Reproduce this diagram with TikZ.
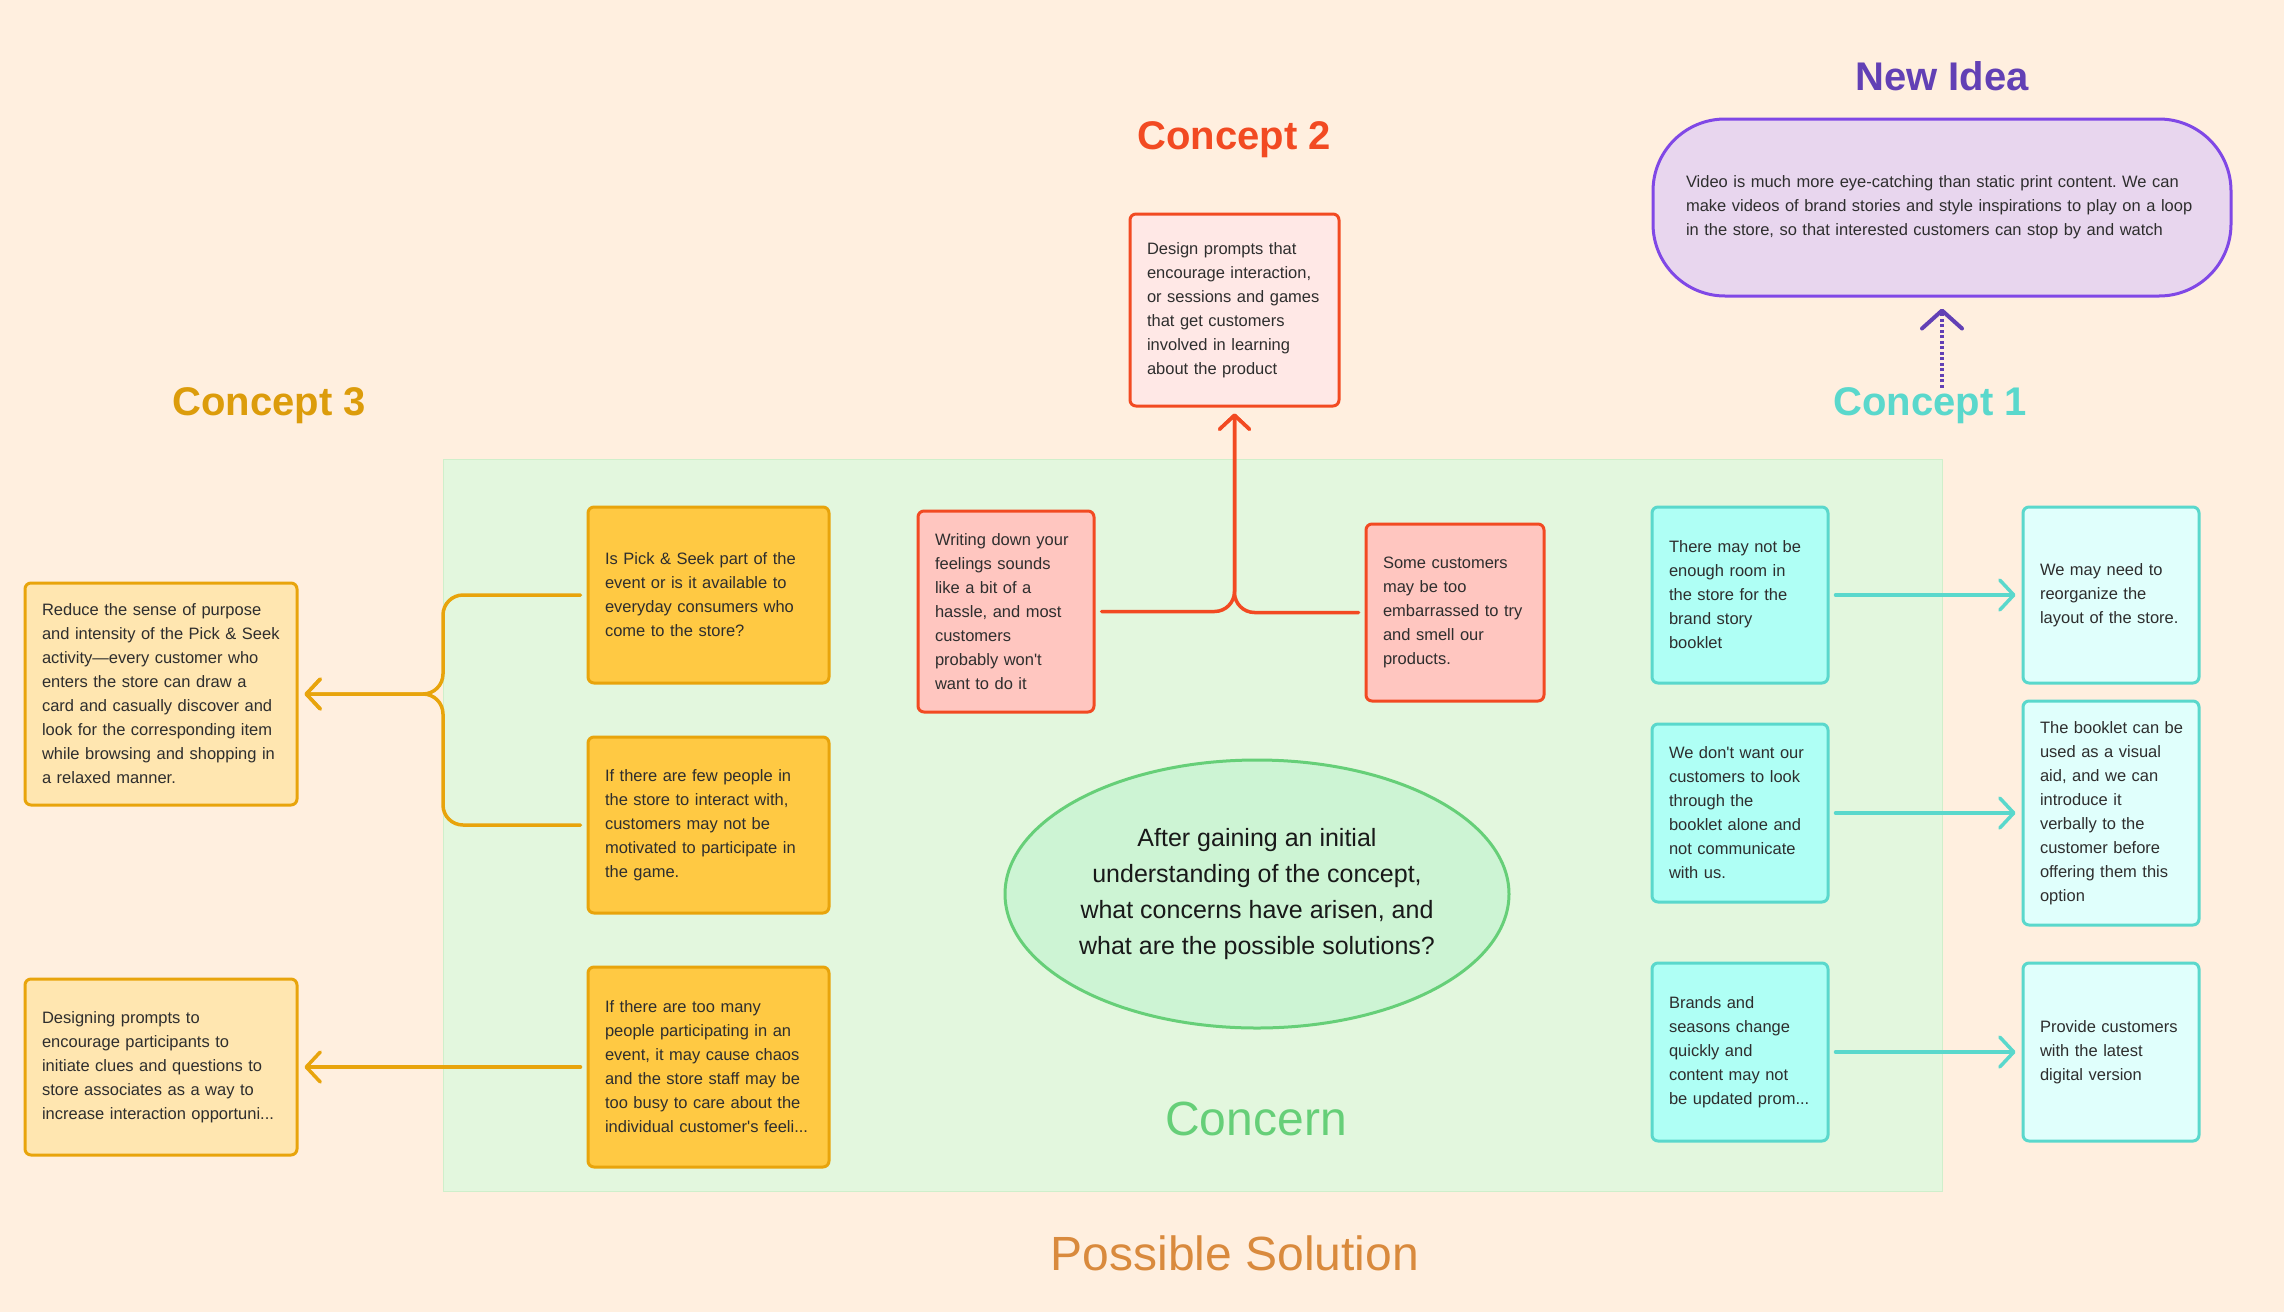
\documentclass[tikz,border=0pt]{standalone}
\usepackage{fontspec}
\setmainfont{Liberation Sans}[Ligatures=TeXOff]
\frenchspacing
\usetikzlibrary{arrows.meta,shapes.geometric}

\definecolor{peach}{HTML}{FFEFDF}
\definecolor{mint}{HTML}{E3F7DE}
\definecolor{mintline}{HTML}{CFEFCB}
\definecolor{ink}{HTML}{2E2E2E}
\definecolor{amber}{HTML}{E8A40C}
\definecolor{amberfill}{HTML}{FFC943}
\definecolor{amberpale}{HTML}{FFE6B0}
\definecolor{coral}{HTML}{F24A22}
\definecolor{coralfill}{HTML}{FFC6C0}
\definecolor{coralpale}{HTML}{FFE8E6}
\definecolor{aqua}{HTML}{5AD8CC}
\definecolor{aquafill}{HTML}{AFFFF5}
\definecolor{aquapale}{HTML}{E0FFFC}
\definecolor{violet}{HTML}{8048E6}
\definecolor{violetfill}{HTML}{E8D6EE}
\definecolor{violetink}{HTML}{6240B5}
\definecolor{leaf}{HTML}{66CF78}
\definecolor{leaffill}{HTML}{CDF4D4}
\definecolor{rust}{HTML}{D98A3D}

\tikzstyle{card}=[rectangle,rounded corners=6pt,line width=3pt,inner xsep=17pt,inner ysep=0pt,align=left,text=ink,font=\fontsize{16.5}{24}\selectfont]
\tikzstyle{card3}=[card,draw=amber,fill=amberfill]
\tikzstyle{sol3}=[card,draw=amber,fill=amberpale]
\tikzstyle{card2}=[card,draw=coral,fill=coralfill]
\tikzstyle{sol2}=[card,draw=coral,fill=coralpale]
\tikzstyle{card1}=[card,draw=aqua,fill=aquafill]
\tikzstyle{sol1}=[card,draw=aqua,fill=aquapale]
\tikzstyle{heading}=[inner sep=0pt,font=\fontsize{40}{44}\selectfont\bfseries]
\tikzstyle{band}=[inner sep=0pt,font=\fontsize{48}{52}\selectfont]
\tikzstyle{link}=[draw,line width=3.5pt,line cap=round,shorten <=6pt,shorten >=6pt,-{Straight Barb[length=14pt,width=30pt,round]}]

\begin{document}
\begin{tikzpicture}[x=1pt,y=-1pt]

   \useasboundingbox (0,0) rectangle (2284,1312);
   \fill[peach] (0,0) rectangle (2284,1312);
   \filldraw[fill=mint,draw=mintline,line width=1pt] (443,459) rectangle (1942,1191);

% Labels
   \node[heading,text=violetink] (tidea) at (1942,76) {New Idea};
   \node[heading,text=coral] (t2) at (1234,140) {Concept 2};
   \node[heading,text=amber!95!black] (t3) at (269,406) {Concept 3};
   \node[heading,text=aqua] (t1) at (1930,406) {Concept 1};
   \node[band,text=leaf] (tconcern) at (1256,1119) {Concern};
   \node[band,text=rust] (tsol) at (1235,1253) {Possible Solution};

% centre question
   \node[ellipse,draw=leaf,fill=leaffill,line width=3pt,inner sep=0pt,minimum width=504pt,minimum height=268pt,
         align=center,text=black!90,font=\fontsize{25}{36}\selectfont] (ask) at (1257,894)
         {After gaining an initial\\understanding of the concept,\\what concerns have arisen, and\\what are the possible solutions?};

% New idea
   \node[rectangle,rounded corners=72pt,draw=violet,fill=violetfill,line width=3pt,inner xsep=33pt,inner ysep=0pt,
         text width=512pt,minimum height=177pt,align=left,text=ink,font=\fontsize{16.5}{24}\selectfont] (idea) at (1942,207.5)
         {Video is much more eye-catching than static print content. We can\\make videos of brand stories and style inspirations to play on a loop\\in the store, so that interested customers can stop by and watch};

%Concept 3
   \node[card3,text width=207pt,minimum height=176pt] (q3a) at (708.5,595)
         {Is Pick \& Seek part of the\\event or is it available to\\everyday consumers who\\come to the store?};
   \node[card3,text width=207pt,minimum height=176pt] (q3b) at (708.5,825)
         {If there are few people in\\the store to interact with,\\customers may not be\\motivated to participate in\\the game.};
   \node[card3,text width=207pt,minimum height=200pt] (q3c) at (708.5,1067)
         {If there are too many\\people participating in an\\event, it may cause chaos\\and the store staff may be\\too busy to care about the\\individual customer's feeli...};
   \node[sol3,text width=238pt,minimum height=222pt] (s3a) at (161,694)
         {Reduce the sense of purpose\\and intensity of the Pick \& Seek\\activity—every customer who\\enters the store can draw a\\card and casually discover and\\look for the corresponding item\\while browsing and shopping in\\a relaxed manner.};
   \node[sol3,text width=238pt,minimum height=176pt] (s3b) at (161,1067)
         {Designing prompts to\\encourage participants to\\initiate clues and questions to\\store associates as a way to\\increase interaction opportuni...};

%Concept 2
   \node[card2,text width=142pt,minimum height=201pt] (q2a) at (1006,611.5)
         {Writing down your\\feelings sounds\\like a bit of a\\hassle, and most\\customers\\probably won't\\want to do it};
   \node[card2,text width=144pt,minimum height=177pt] (q2b) at (1455,612.5)
         {Some customers\\may be too\\embarrassed to try\\and smell our\\products.};
   \node[sol2,text width=175pt,minimum height=192pt] (s2) at (1234.5,310)
         {Design prompts that\\encourage interaction,\\or sessions and games\\that get customers\\involved in learning\\about the product};

%Concept 1
   \node[card1,text width=142pt,minimum height=176pt] (q1a) at (1740,595)
         {There may not be\\enough room in\\the store for the\\brand story\\booklet};
   \node[card1,text width=142pt,minimum height=178pt] (q1b) at (1740,813)
         {We don't want our\\customers to look\\through the\\booklet alone and\\not communicate\\with us.};
   \node[card1,text width=142pt,minimum height=178pt] (q1c) at (1740,1052)
         {Brands and\\seasons change\\quickly and\\content may not\\be updated prom...};
   \node[sol1,text width=142pt,minimum height=176pt] (s1a) at (2111,595)
         {We may need to\\reorganize the\\layout of the store.};
   \node[sol1,text width=142pt,minimum height=224pt] (s1b) at (2111,813)
         {\mbox{The booklet can be}\\used as a visual\\aid, and we can\\introduce it\\verbally to the\\customer before\\offering them this\\option};
   \node[sol1,text width=142pt,minimum height=178pt] (s1c) at (2111,1052)
         {Provide customers\\with the latest\\digital version};

   % connectors
   \coordinate (fork3) at (443,694);
   \foreach \source in {q3a,q3b}
      \path[link,amber,rounded corners=20pt] (\source.west) -| (fork3) -- (s3a.east);
   \path[link,amber] (q3c.west) -- (s3b.east);

   \foreach \source in {q2a,q2b}
      \path[link,coral,rounded corners=20pt] (\source) -| (s2.south);

   \foreach \source/\dest in {q1a/s1a, q1b/s1b, q1c/s1c}
      \path[link,aqua] (\source.east) -- (\dest.west);

   \path[draw,violetink,line width=4pt,dash pattern=on 3pt off 2.5pt,shorten >=11pt,
         -{Straight Barb[length=18pt,width=40pt,round]}] (idea.south |- t1.north) -- (idea.south);

\end{tikzpicture}
\end{document}
